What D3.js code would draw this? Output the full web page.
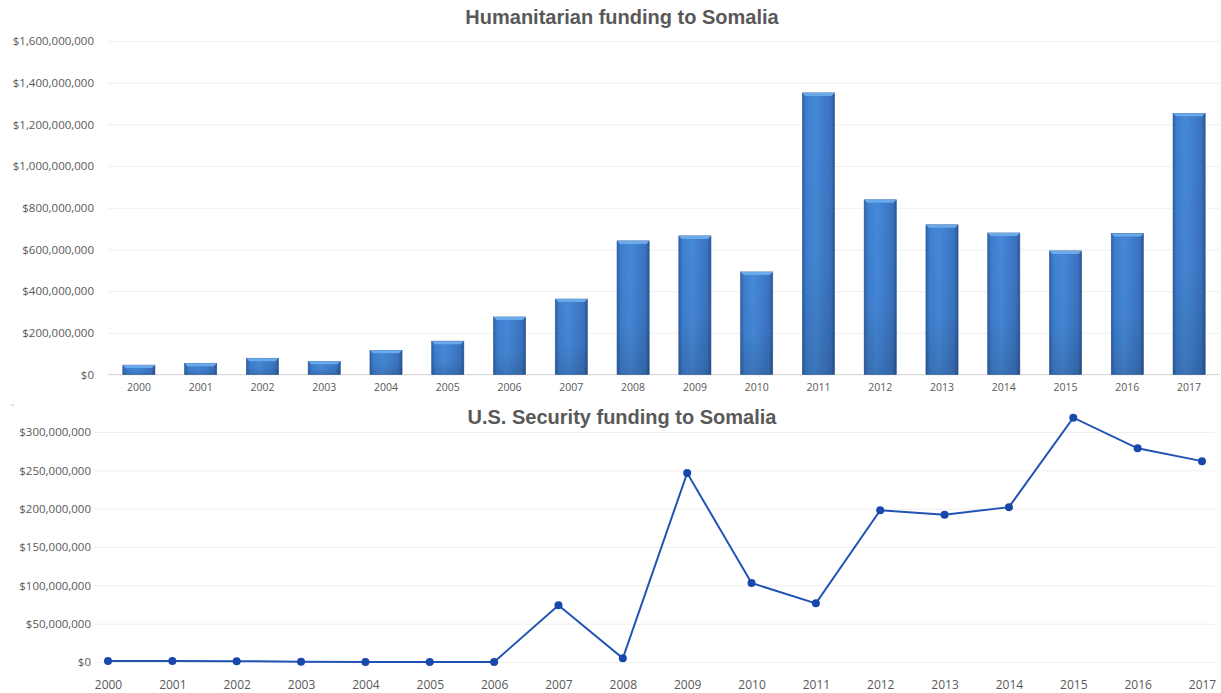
<!DOCTYPE html>
<html>
<head>
<meta charset="utf-8">
<script src="https://cdn.jsdelivr.net/npm/d3@7"></script>
<style>
  body { margin: 0; background: #fff; }
  svg { display: block; }
  .title { font-family: "Liberation Sans", Arial, sans-serif; font-weight: bold; fill: #595959; }
  .tick text { font-family: "Open Sans", sans-serif; fill: #595959; }
</style>
</head>
<body>
<svg id="chart" width="1221" height="693"></svg>
<script>
"use strict";

/***** Data *****/
var years = ["2000","2001","2002","2003","2004","2005","2006","2007","2008",
             "2009","2010","2011","2012","2013","2014","2015","2016","2017"];

// Humanitarian funding (USD)
var humanitarian = [45e6, 54e6, 78e6, 63e6, 116e6, 160e6, 276e6, 362e6, 641e6,
                    665e6, 492e6, 1351e6, 838e6, 718e6, 679e6, 593e6, 677e6, 1253e6];

// U.S. security funding (USD)
var security = [1.2e6, 1.2e6, 1.0e6, 0.4e6, 0, 0, 0, 74e6, 4.8e6,
                246.5e6, 103e6, 76.5e6, 198e6, 192e6, 202e6, 318.7e6, 278.7e6, 262e6];

var topTicks = [0, 200e6, 400e6, 600e6, 800e6, 1000e6, 1200e6, 1400e6, 1600e6];
var bottomTicks = [0, 50e6, 100e6, 150e6, 200e6, 250e6, 300e6];

var money = d3.format("$,.0f");
var svg = d3.select("#chart");

/***** Gradients for the bevelled bars *****/
var defs = svg.append("defs");
var hGrad = defs.append("linearGradient").attr("id", "barH").attr("x1", 0).attr("x2", 1).attr("y1", 0).attr("y2", 0);
hGrad.append("stop").attr("offset", "0%").attr("stop-color", "#2f62a8");
hGrad.append("stop").attr("offset", "12%").attr("stop-color", "#3d7fcf");
hGrad.append("stop").attr("offset", "40%").attr("stop-color", "#4688d8");
hGrad.append("stop").attr("offset", "88%").attr("stop-color", "#3a74c0");
hGrad.append("stop").attr("offset", "100%").attr("stop-color", "#2b5796");

var vGrad = defs.append("linearGradient").attr("id", "barV").attr("x1", 0).attr("x2", 0).attr("y1", 0).attr("y2", 1);
vGrad.append("stop").attr("offset", "0%").attr("stop-color", "#000").attr("stop-opacity", 0);
vGrad.append("stop").attr("offset", "60%").attr("stop-color", "#000").attr("stop-opacity", 0.03);
vGrad.append("stop").attr("offset", "100%").attr("stop-color", "#000").attr("stop-opacity", 0.14);

/***** Top: humanitarian bar chart *****/
var x1 = d3.scaleBand().domain(years).range([108, 1220]).paddingInner(0.48).paddingOuter(0.24);
var y1 = d3.scaleLinear().domain([0, 1600e6]).range([374.5, 41]);

svg.append("text").attr("class", "title")
  .attr("x", 622).attr("y", 24).attr("text-anchor", "middle")
  .attr("font-size", 20).text("Humanitarian funding to Somalia");

var yAxis1 = svg.append("g")
  .attr("transform", "translate(108,0)")
  .call(d3.axisLeft(y1).tickValues(topTicks).tickFormat(money).tickSize(-1112).tickPadding(14));
yAxis1.select(".domain").remove();
yAxis1.selectAll(".tick line").attr("stroke", "#efefef");
yAxis1.selectAll(".tick text").attr("font-size", 11.5);

svg.append("line").attr("x1", 108).attr("x2", 1220)
  .attr("y1", y1(0)).attr("y2", y1(0)).attr("stroke", "#d9d9d9");

var xAxis1 = svg.append("g")
  .attr("transform", "translate(0," + y1(0) + ")")
  .call(d3.axisBottom(x1).tickSize(0).tickPadding(9));
xAxis1.select(".domain").remove();
xAxis1.selectAll(".tick text").attr("font-size", 10.5);

var bars = svg.append("g").selectAll("g").data(humanitarian).join("g");
bars.append("rect")
  .attr("x", function (d, i) { return x1(years[i]); })
  .attr("y", function (d) { return y1(d); })
  .attr("width", x1.bandwidth())
  .attr("height", function (d) { return y1(0) - y1(d); })
  .attr("fill", "url(#barH)")
  .attr("stroke", "#2a5594").attr("stroke-width", 0.6);
bars.append("rect")
  .attr("x", function (d, i) { return x1(years[i]); })
  .attr("y", function (d) { return y1(d); })
  .attr("width", x1.bandwidth())
  .attr("height", function (d) { return y1(0) - y1(d); })
  .attr("fill", "url(#barV)");
// top bevel
bars.append("path")
  .attr("d", function (d, i) {
    var x = x1(years[i]), w = x1.bandwidth(), y = y1(d);
    return "M" + x + "," + y + "h" + w + "l-3,3h" + (-(w - 6)) + "z";
  })
  .attr("fill", "#6aa9ea");

/***** Bottom: security line chart *****/
var x2 = d3.scalePoint().domain(years).range([108, 1202]);
var y2 = d3.scaleLinear().domain([0, 300e6]).range([662, 432]);

svg.append("text").attr("class", "title")
  .attr("x", 622).attr("y", 424).attr("text-anchor", "middle")
  .attr("font-size", 20).text("U.S. Security funding to Somalia");

var yAxis2 = svg.append("g")
  .attr("transform", "translate(95,0)")
  .call(d3.axisLeft(y2).tickValues(bottomTicks).tickFormat(money).tickSize(-1120).tickPadding(4));
yAxis2.select(".domain").remove();
yAxis2.selectAll(".tick line").attr("stroke", "#efefef");
yAxis2.selectAll(".tick text").attr("font-size", 11.5);

var xAxis2 = svg.append("g")
  .attr("transform", "translate(0,662)")
  .call(d3.axisBottom(x2).tickSize(0).tickPadding(18));
xAxis2.select(".domain").remove();
xAxis2.selectAll(".tick text").attr("font-size", 12);

var line = d3.line()
  .x(function (d, i) { return x2(years[i]); })
  .y(function (d) { return y2(d); });

svg.append("path").datum(security)
  .attr("d", line).attr("fill", "none")
  .attr("stroke", "#2153b5").attr("stroke-width", 2);

svg.append("g").selectAll("circle").data(security).join("circle")
  .attr("cx", function (d, i) { return x2(years[i]); })
  .attr("cy", function (d) { return y2(d); })
  .attr("r", 4).attr("fill", "#1848ac");

// small separator mark between the charts
svg.append("rect").attr("x", 11).attr("y", 404).attr("width", 3).attr("height", 2).attr("fill", "#e0e0e0");
</script>
</body>
</html>
